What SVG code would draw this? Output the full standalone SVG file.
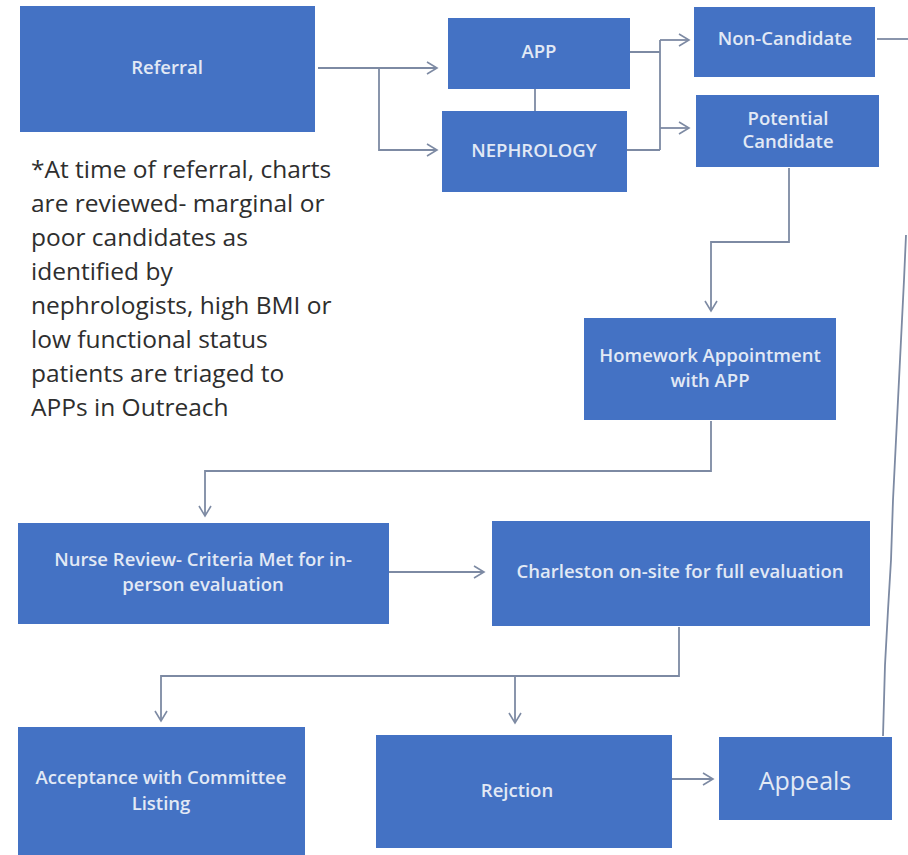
<svg xmlns="http://www.w3.org/2000/svg" width="908" height="855" viewBox="0 0 908 855">
<defs>
<marker id="arr" markerWidth="14" markerHeight="14" refX="12" refY="7" orient="auto" markerUnits="userSpaceOnUse">
<polyline points="2,1 12,7 2,13" fill="none" stroke="#7d8aa3" stroke-width="1.6"/>
</marker>
<style>
.box{fill:#4472c4;}
.bt{font-family:"Open Sans","Noto Sans",sans-serif;font-size:18.5px;font-weight:600;fill:#e2e9f5;text-anchor:middle;}
.note{font-family:"Open Sans","Noto Sans",sans-serif;font-size:24.5px;fill:#2e2e2e;}
.c{fill:none;stroke:#7d8aa3;stroke-width:1.8;}
</style>
</defs>
<rect width="908" height="855" fill="#ffffff"/>
<g id="connectors">
<path class="c" d="M318,68 H437" marker-end="url(#arr)"/>
<path class="c" d="M379,68 V150 H437" marker-end="url(#arr)"/>
<path class="c" d="M535,89 V111"/>
<path class="c" d="M630,52 H660 M627,150 H660 M660,40 V150"/>
<path class="c" d="M660,40 H689" marker-end="url(#arr)"/>
<path class="c" d="M660,128 H689" marker-end="url(#arr)"/>
<path class="c" d="M877,39 H908"/>
<path class="c" d="M789,168 V242 H711 V311" marker-end="url(#arr)"/>
<path class="c" d="M711,421 V471 H205 V516" marker-end="url(#arr)"/>
<path class="c" d="M389,572 H484" marker-end="url(#arr)"/>
<path class="c" d="M679,627 V676 H161 V721" marker-end="url(#arr)"/>
<path class="c" d="M515,676 V723" marker-end="url(#arr)"/>
<path class="c" d="M672,779 H713" marker-end="url(#arr)"/>
<polyline class="c" points="883,736 885,665 888,610 891,560 893,500 896,440 899,380 902,320 904,280 906,235"/>
</g>
<g id="referral">
<rect class="box" x="20" y="6" width="295" height="126"/>
<text class="bt" x="167" y="74">Referral</text>
</g>
<g id="note">
<text class="note" x="31" y="178">*At time of referral, charts</text>
<text class="note" x="31" y="212">are reviewed- marginal or</text>
<text class="note" x="31" y="246">poor candidates as</text>
<text class="note" x="31" y="280">identified by</text>
<text class="note" x="31" y="314">nephrologists, high BMI or</text>
<text class="note" x="31" y="348">low functional status</text>
<text class="note" x="31" y="382">patients are triaged to</text>
<text class="note" x="31" y="416">APPs in Outreach</text>
</g>
<g id="app">
<rect class="box" x="448" y="18" width="182" height="71"/>
<text class="bt" x="539" y="58">APP</text>
</g>
<g id="nephrology">
<rect class="box" x="442" y="111" width="185" height="81"/>
<text class="bt" x="534" y="157">NEPHROLOGY</text>
</g>
<g id="non-candidate">
<rect class="box" x="694" y="7" width="181" height="70"/>
<text class="bt" x="785" y="45">Non-Candidate</text>
</g>
<g id="potential-candidate">
<rect class="box" x="696" y="95" width="183" height="72"/>
<text class="bt" x="788" y="125">Potential</text>
<text class="bt" x="788" y="148">Candidate</text>
</g>
<g id="homework">
<rect class="box" x="584" y="318" width="252" height="102"/>
<text class="bt" x="710" y="362">Homework Appointment</text>
<text class="bt" x="710" y="387">with APP</text>
</g>
<g id="nurse-review">
<rect class="box" x="18" y="523" width="371" height="101"/>
<text class="bt" x="203" y="566">Nurse Review- Criteria Met for in-</text>
<text class="bt" x="203" y="591">person evaluation</text>
</g>
<g id="charleston">
<rect class="box" x="492" y="521" width="378" height="105"/>
<text class="bt" x="680" y="578">Charleston on-site for full evaluation</text>
</g>
<g id="acceptance">
<rect class="box" x="18" y="727" width="287" height="128"/>
<text class="bt" x="161" y="784">Acceptance with Committee</text>
<text class="bt" x="161" y="810">Listing</text>
</g>
<g id="rejection">
<rect class="box" x="376" y="735" width="296" height="113"/>
<text class="bt" x="517" y="797">Rejction</text>
</g>
<g id="appeals">
<rect class="box" x="719" y="737" width="173" height="83"/>
<text class="bt" x="805" y="790" style="font-size:25px;font-weight:400">Appeals</text>
</g>
</svg>
